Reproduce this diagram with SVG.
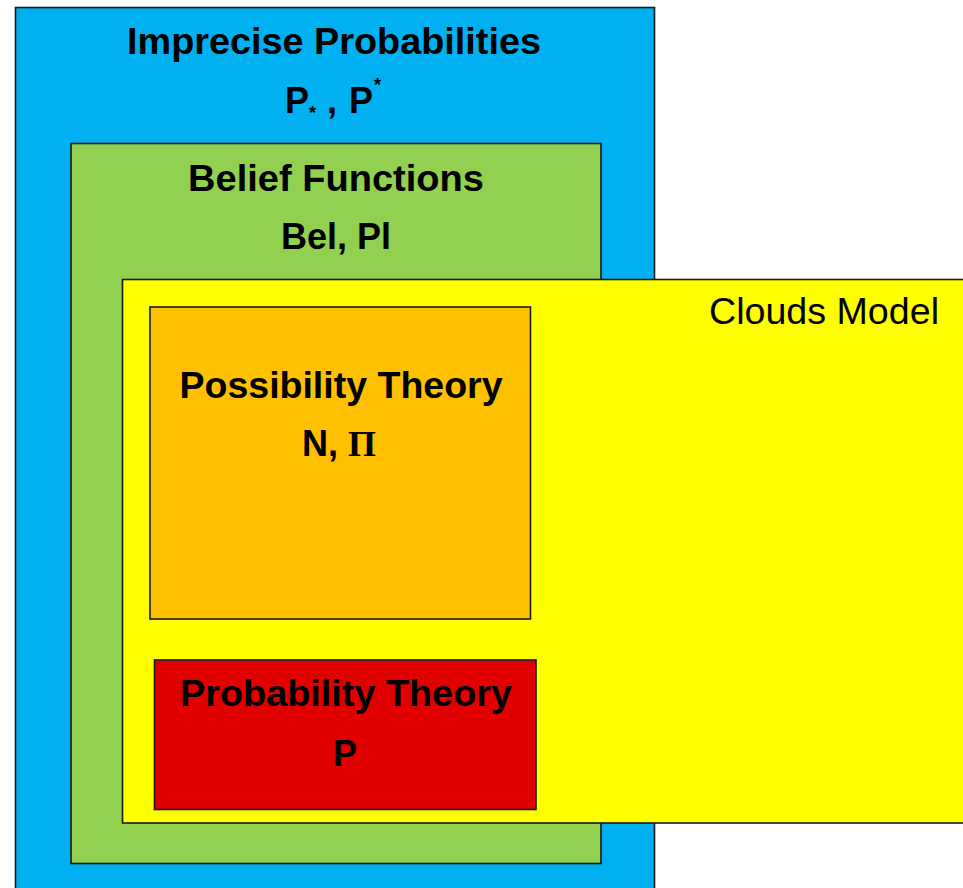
<svg xmlns="http://www.w3.org/2000/svg" width="963" height="888" viewBox="0 0 963 888">
  <style>
    .box { stroke: #1a1a1a; stroke-width: 1.6; }
    .title { font-family: "Liberation Sans", Arial, sans-serif; font-weight: bold; font-size: 36px; fill: #000; }
    .plain { font-family: "Liberation Sans", Arial, sans-serif; font-size: 36px; fill: #000; }
    .serif { font-family: "Liberation Serif", "Times New Roman", serif; font-weight: bold; }
    .star { font-size: 18px; }
  </style>
  <rect x="0" y="0" width="963" height="888" fill="#ffffff"/>

  <!-- outermost framework -->
  <g id="imprecise-probabilities">
    <rect class="box" x="15.5" y="7.5" width="639" height="900" fill="#00B0F0"/>
    <text class="title" x="334" y="54" text-anchor="middle" textLength="414" lengthAdjust="spacingAndGlyphs">Imprecise Probabilities</text>
    <!-- lower and upper probability: P with sub/superscript asterisks -->
    <text class="title" x="285" y="113">P<tspan class="star" dy="6">*</tspan><tspan dx="11" dy="-6">,</tspan><tspan dx="12">P</tspan><tspan class="star" dx="1" dy="-22">*</tspan></text>
  </g>

  <g id="belief-functions">
    <rect class="box" x="71" y="143.5" width="530" height="720" fill="#92D050"/>
    <text class="title" x="336" y="191" text-anchor="middle" textLength="296" lengthAdjust="spacingAndGlyphs">Belief Functions</text>
    <text class="title" x="336" y="249" text-anchor="middle">Bel, Pl</text>
  </g>

  <g id="clouds-model">
    <rect class="box" x="122.5" y="279.5" width="860" height="543.5" fill="#FFFF00"/>
    <text class="plain" x="709" y="324" textLength="230" lengthAdjust="spacingAndGlyphs">Clouds Model</text>
  </g>

  <g id="possibility-theory">
    <rect class="box" x="150" y="307" width="380.5" height="312" fill="#FFC000"/>
    <text class="title" x="341" y="398" text-anchor="middle" textLength="323" lengthAdjust="spacingAndGlyphs">Possibility Theory</text>
    <text class="title" x="302" y="456">N, <tspan class="serif">Π</tspan></text>
  </g>

  <g id="probability-theory">
    <rect class="box" x="154.5" y="660" width="381.5" height="149.5" fill="#E00000"/>
    <text class="title" x="346" y="706" text-anchor="middle" textLength="332" lengthAdjust="spacingAndGlyphs">Probability Theory</text>
    <text class="title" x="345" y="766" text-anchor="middle">P</text>
  </g>
</svg>
